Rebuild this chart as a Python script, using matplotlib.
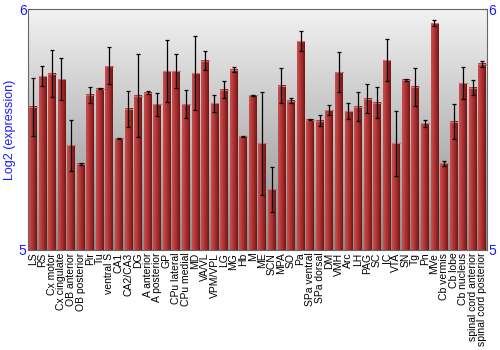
import matplotlib
matplotlib.use('Agg')
import matplotlib.pyplot as plt
import numpy as np
from matplotlib.colors import LinearSegmentedColormap

plt.rcParams['font.family'] = ['Liberation Sans', 'DejaVu Sans']

regions = ['LS', 'RS', 'Cx motor', 'Cx cingulate', 'OB anterior', 'OB posterior', 'Pir', 'Tu',
           'ventral S', 'CA1', 'CA2/CA3', 'DG', 'A anterior', 'A posterior', 'GP', 'CPu lateral',
           'CPu medial', 'MD', 'VA/VL', 'VPM/VPL', 'LG', 'MG', 'Hb', 'M', 'ME', 'SCN', 'MPA', 'SO',
           'Pa', 'SPa ventral', 'SPa dorsal', 'DM', 'VMH', 'Arc', 'LH', 'PAG', 'SC', 'IC', 'VTA',
           'SN', 'Tg', 'Pn', 'MVe', 'Cb vermis', 'Cb lobe', 'Cb nucleus', 'spinal cord anterior',
           'spinal cord posterior']

expression = [5.594, 5.721, 5.732, 5.710, 5.434, 5.358, 5.644, 5.669,
              5.764, 5.463, 5.586, 5.641, 5.652, 5.604, 5.742, 5.742,
              5.606, 5.735, 5.785, 5.608, 5.666, 5.749, 5.472, 5.642,
              5.442, 5.251, 5.682, 5.619, 5.867, 5.541, 5.536, 5.580,
              5.739, 5.575, 5.594, 5.628, 5.612, 5.787, 5.442, 5.706,
              5.678, 5.525, 5.941, 5.359, 5.533, 5.693, 5.674, 5.773]

errors = [0.120, 0.041, 0.097, 0.088, 0.107, 0.004, 0.034, 0.002,
          0.077, 0.002, 0.074, 0.171, 0.006, 0.047, 0.128, 0.070,
          0.057, 0.152, 0.039, 0.035, 0.037, 0.012, 0.002, 0.002,
          0.215, 0.094, 0.072, 0.010, 0.042, 0.002, 0.023, 0.021,
          0.083, 0.033, 0.060, 0.061, 0.066, 0.087, 0.135, 0.003,
          0.079, 0.014, 0.012, 0.009, 0.074, 0.066, 0.031, 0.012]

ymin, ymax = 5, 6
blue = '#1a1aff'

fig = plt.figure(figsize=(5, 3.5), dpi=100)
ax = fig.add_axes([0.056, 0.286, 0.918, 0.688])

x = np.arange(len(regions))
width = 0.8

# gray background gradient, light at top
bg = LinearSegmentedColormap.from_list('bg', ['#8a8a8a', '#f2f2f2'])
ax.imshow(np.linspace(0, 1, 256).reshape(-1, 1), cmap=bg, origin='lower', aspect='auto',
          extent=(-0.5, len(regions) - 0.5, ymin, ymax), zorder=0)

# red bars with horizontal shading
red = LinearSegmentedColormap.from_list('red', ['#c85050', '#b83a3a', '#9a2828', '#701515'])
grad = np.linspace(0, 1, 64).reshape(1, -1)
for xi, v in zip(x, expression):
    ax.imshow(grad, cmap=red, aspect='auto', extent=(xi - width / 2, xi + width / 2, ymin, v),
              zorder=2)
    ax.plot([xi - width / 2, xi + width / 2], [v, v], color='#d07070', lw=0.8, zorder=3)

ax.errorbar(x, expression, yerr=errors, fmt='none', ecolor='black', elinewidth=0.9,
            capsize=1.6, capthick=0.9, zorder=4)

ax.set_xlim(-0.5, len(regions) - 0.5)
ax.set_ylim(ymin, ymax)
ax.set_xticks(x)
ax.set_xticklabels(regions, rotation=90, fontsize=7.5)
ax.tick_params(axis='x', length=0, pad=2)
ax.set_yticks([5, 6])
ax.tick_params(axis='y', colors=blue, labelsize=10, length=3, pad=1, direction='in')
ax.tick_params(axis='y', which='both', labelright=True, right=True)
for lbl in ax.get_yticklabels():
    lbl.set_color(blue)
ax.set_ylabel('Log2 (expression)', color=blue, fontsize=9, labelpad=2)
for s in ax.spines.values():
    s.set_color('#666666')
    s.set_linewidth(0.8)

fig.savefig('out.png', dpi=100)
